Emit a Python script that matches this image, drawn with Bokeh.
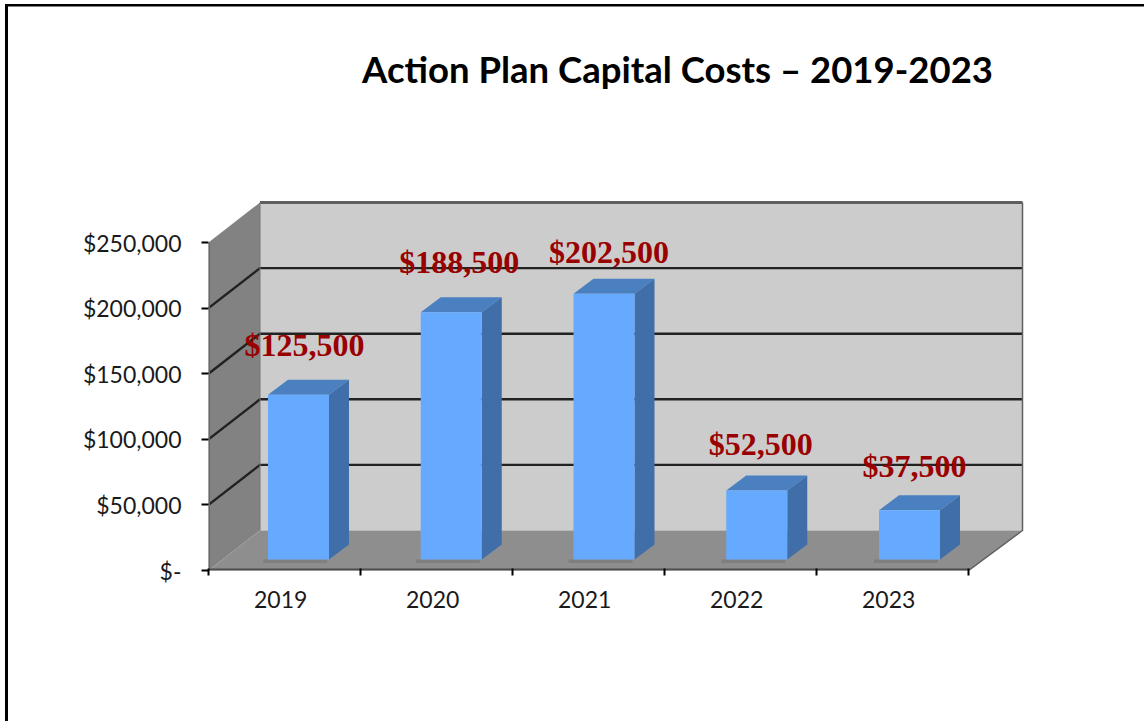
from bokeh.plotting import figure
from bokeh.models import FixedTicker, LinearAxis, Range1d, ColumnDataSource
from bokeh.core.properties import value
from bokeh.embed import file_html
from bokeh.resources import INLINE

title_text = "Action Plan Capital Costs \u2013 2019-2023"
years = ["2019", "2020", "2021", "2022", "2023"]
costs = [125500, 188500, 202500, 52500, 37500]
cost_labels = ["$125,500", "$188,500", "$202,500", "$52,500", "$37,500"]
y_ticks = [0, 50000, 100000, 150000, 200000, 250000]
y_tick_labels = ["$-", "$50,000", "$100,000", "$150,000", "$200,000", "$250,000"]

# layout constants: pixels per category and dollars per pixel
W, H = 1144, 721
LEFT, BASE = 208, 570
PXC = 152.0
USD = 250000 / 328
x_u = 1 / PXC
WALL_DX, WALL_DY = 51.5 * x_u, 40 * USD
WALL_DX_R = 54 * x_u
BAR_DX, BAR_DY = 20 * x_u, 15 * USD
BAR_W = 61 * x_u
BAR_START, BAR_STEP = 59.5 * x_u, 152.75 * x_u
BAR_BASE = 11 * USD
YMAX = 250000

# the page frame (left and top edges only) sits behind the transparent canvas
frame_css = {
    "background-image": "linear-gradient(#000,#000),linear-gradient(#000,#000)",
    "background-size": "3px 100%,100% 2.5px",
    "background-position": "5px 4px,5px 4px",
    "background-repeat": "no-repeat",
}

p = figure(width=W, height=H, output_backend="svg", toolbar_location=None,
           x_range=Range1d(0, (W - LEFT) * x_u), y_range=Range1d(0, BASE * USD),
           x_axis_location=None, y_axis_location=None,
           min_border_left=LEFT, min_border_right=0, min_border_top=0, min_border_bottom=H - BASE,
           margin=0, outline_line_color=None, background_fill_color=None, border_fill_color=None,
           styles=frame_css)
p.grid.visible = False

FONT = "Lato"
yax = LinearAxis(ticker=FixedTicker(ticks=y_ticks), bounds=(0, YMAX),
                 major_label_overrides=dict(zip(y_ticks, y_tick_labels)),
                 axis_line_color=None, major_tick_line_color="black", major_tick_line_width=2,
                 major_tick_out=7, major_tick_in=0, minor_tick_line_color=None, major_label_standoff=20,
                 major_label_text_font=FONT, major_label_text_font_size="23px", major_label_text_color="#1a1a1a")
p.add_layout(yax, "left")

label_ticks = [i + 0.475 for i in range(len(years))]
xax = LinearAxis(ticker=FixedTicker(ticks=label_ticks, minor_ticks=list(range(len(years) + 1))),
                 axis_line_color=None, major_tick_line_color=None,
                 minor_tick_line_color="black", minor_tick_line_width=2, minor_tick_out=5, minor_tick_in=2,
                 major_tick_out=0, major_tick_in=0,
                 major_label_overrides=dict(zip(label_ticks, years)),
                 major_label_standoff=15, major_label_text_font=FONT, major_label_text_font_size="23px",
                 major_label_text_color="#1a1a1a")
p.add_layout(xax, "below")

n = len(years)
WALL_R = n + WALL_DX_R
# side wall, back wall, floor
p.patch([0, WALL_DX, WALL_DX, 0], [0, WALL_DY, YMAX + WALL_DY, YMAX], fill_color="#828282", line_color=None)
p.quad(left=WALL_DX, right=WALL_R, bottom=WALL_DY, top=YMAX + WALL_DY, fill_color="#cccccc", line_color=None)
p.patch([0, n, WALL_R, WALL_DX], [0, 0, WALL_DY, WALL_DY], fill_color="#8e8e8e", line_color=None)

# grid lines on walls
grid = [t for t in y_ticks if 0 < t < YMAX]
p.multi_line([[0, WALL_DX, WALL_R] for _ in grid], [[t, t + WALL_DY, t + WALL_DY] for t in grid],
             line_color="#222222", line_width=2.4)
p.line([WALL_DX, WALL_R], [YMAX + WALL_DY, YMAX + WALL_DY], line_color="#5f5f5f", line_width=3)
p.line([WALL_R, WALL_R, n], [YMAX + WALL_DY, WALL_DY, 0], line_color="#5f5f5f", line_width=1.5)
p.line([WALL_DX, WALL_DX], [WALL_DY, YMAX + WALL_DY], line_color="#777777", line_width=1)
p.line([0, 0], [0, YMAX], line_color="#666666", line_width=3)
p.line([0, n], [0, 0], line_color="#4c4c4c", line_width=4)

# bars
lefts = [BAR_START + i * BAR_STEP for i in range(n)]
rights = [l + BAR_W for l in lefts]
tops = [BAR_BASE + c for c in costs]
p.quad(left=[l - 5 * x_u for l in lefts], right=[r - 2 * x_u for r in rights],
       bottom=BAR_BASE - 3.5 * USD, top=BAR_BASE, fill_color="#6f6f6f", fill_alpha=0.5, line_color=None)
p.patches([[l, r, r + BAR_DX, l + BAR_DX] for l, r in zip(lefts, rights)],
          [[t, t, t + BAR_DY, t + BAR_DY] for t in tops], fill_color="#4a7fc0", line_color=None)
p.patches([[r, r + BAR_DX, r + BAR_DX, r] for r in rights],
          [[BAR_BASE, BAR_BASE + BAR_DY, t + BAR_DY, t] for t in tops], fill_color="#3f6ea8", line_color=None)
p.quad(left=lefts, right=rights, bottom=BAR_BASE, top=tops, fill_color="#66aaff", line_color=None)

# value labels
label_nudge_x = [6, 8, 5, 4, 5]
label_nudge_y = [50, 50, 42, 47, 44]
src = ColumnDataSource(dict(x=[(l + r) / 2 for l, r in zip(lefts, rights)], y=tops, t=cost_labels,
                            xo=label_nudge_x, yo=[-d for d in label_nudge_y]))
p.text("x", "y", text="t", source=src, x_offset="xo", y_offset="yo", text_align="center",
       text_baseline="alphabetic", text_font=value("Liberation Serif"), text_font_style="bold",
       text_font_size="32px", text_color="#990000")

# title
p.text([(677 - LEFT) * x_u], [(BASE - 68) * USD], text=[title_text], text_align="center",
       text_baseline="alphabetic", text_font=value("Lato"), text_font_style="bold",
       text_font_size="36.5px", text_color="black")

open("out.html", "w").write(file_html(p, INLINE))
